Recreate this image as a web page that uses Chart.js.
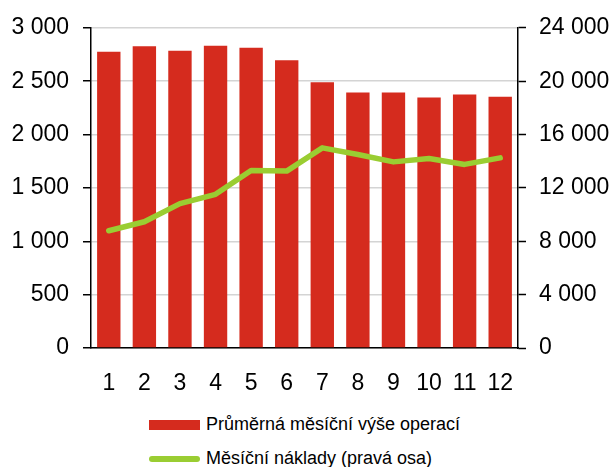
<!DOCTYPE html>
<html lang="cs">
<head>
  <meta charset="UTF-8">
  <title>Průměrná měsíční výše operací</title>
  <script src="https://cdn.jsdelivr.net/npm/chart.js"></script>
  <style>
    html, body {
      margin: 0;
      padding: 0;
      background: #fff;
      font-family: 'Liberation Sans', Arial, sans-serif;
    }
    .wrap {
      position: relative;
      width: 613px;
      height: 467px;
    }
    .chart-box {
      position: absolute;
      left: 0;
      top: 0;
      width: 613px;
      height: 400px;
    }
    #legend {
      position: absolute;
      left: 149px;
      top: 413px;
      font-size: 18px;
      color: #000;
    }
    .legend-item {
      display: flex;
      align-items: center;
      height: 23px;
      margin-bottom: 11px;
    }
    .legend-mark {
      width: 51px;
      margin-right: 6px;
    }
  </style>
</head>
<body>
<div class="wrap">
  <div class="chart-box">
    <canvas id="chart" width="613" height="400"></canvas>
  </div>
  <div id="legend"></div>
</div>

<script>
  // values
  const months = ['1', '2', '3', '4', '5', '6', '7', '8', '9', '10', '11', '12'];
  const avgOperations = [2775, 2828, 2784, 2831, 2812, 2697, 2489, 2393, 2393, 2346, 2374, 2353];
  const monthlyCosts = [8790, 9460, 10820, 11520, 13310, 13260, 15000, 14500, 13950, 14200, 13760, 14250];

  const RED = '#D52B1E';
  const GREEN = '#9ACD32';
  const tickFont = { family: "'Liberation Sans', Arial, sans-serif", size: 23 };

  const fmt = v => String(v).replace(/\B(?=(\d{3})+(?!\d))/g, ' ');

  const ctx = document.getElementById('chart').getContext('2d');
  const chart = new Chart(ctx, {
    data: {
      labels: months,
      datasets: [
        {
          type: 'line',
          label: 'Měsíční náklady (pravá osa)',
          data: monthlyCosts,
          yAxisID: 'y2',
          borderColor: GREEN,
          backgroundColor: GREEN,
          borderWidth: 5.5,
          borderCapStyle: 'round',
          borderJoinStyle: 'round',
          pointRadius: 0,
          tension: 0,
          order: 0
        },
        {
          type: 'bar',
          label: 'Průměrná měsíční výše operací',
          data: avgOperations,
          yAxisID: 'y',
          backgroundColor: RED,
          barPercentage: 0.9,
          categoryPercentage: 0.73,
          order: 1
        }
      ]
    },
    options: {
      responsive: false,
      animation: false,
      layout: { padding: { top: 26, left: 0, right: 0, bottom: 0 } },
      plugins: {
        legend: { display: false },
        tooltip: { enabled: false }
      },
      scales: {
        x: {
          grid: { display: false },
          border: { color: '#000', width: 1.5 },
          ticks: { color: '#000', font: tickFont, padding: 14, maxRotation: 0 },
          afterFit: s => { s.height = 52; }
        },
        y: {
          position: 'left',
          min: 0,
          max: 3000,
          grid: { color: '#d4d4d4', lineWidth: 1.5, tickColor: '#000', tickLength: 8, tickWidth: 1.5 },
          border: { color: '#000', width: 1.5 },
          ticks: { stepSize: 500, color: '#000', font: tickFont, padding: 14, callback: fmt },
          afterFit: s => { s.width = 91; }
        },
        y2: {
          position: 'right',
          min: 0,
          max: 24000,
          grid: { drawOnChartArea: false, tickColor: '#000', tickLength: 8, tickWidth: 1.5 },
          border: { color: '#000', width: 1.5 },
          ticks: { stepSize: 4000, color: '#000', font: tickFont, padding: 13, callback: fmt },
          afterFit: s => { s.width = 95; }
        }
      }
    }
  });

  // legend below the chart, one item per row
  const legend = document.getElementById('legend');
  [chart.data.datasets[1], chart.data.datasets[0]].forEach(ds => {
    const item = document.createElement('div');
    item.className = 'legend-item';
    const mark = document.createElement('span');
    mark.className = 'legend-mark';
    if (ds.type === 'bar') {
      mark.style.height = '10px';
      mark.style.background = ds.backgroundColor;
    } else {
      mark.style.height = '6px';
      mark.style.borderRadius = '3px';
      mark.style.background = ds.borderColor;
    }
    const text = document.createElement('span');
    text.textContent = ds.label;
    item.appendChild(mark);
    item.appendChild(text);
    legend.appendChild(item);
  });
</script>
</body>
</html>
